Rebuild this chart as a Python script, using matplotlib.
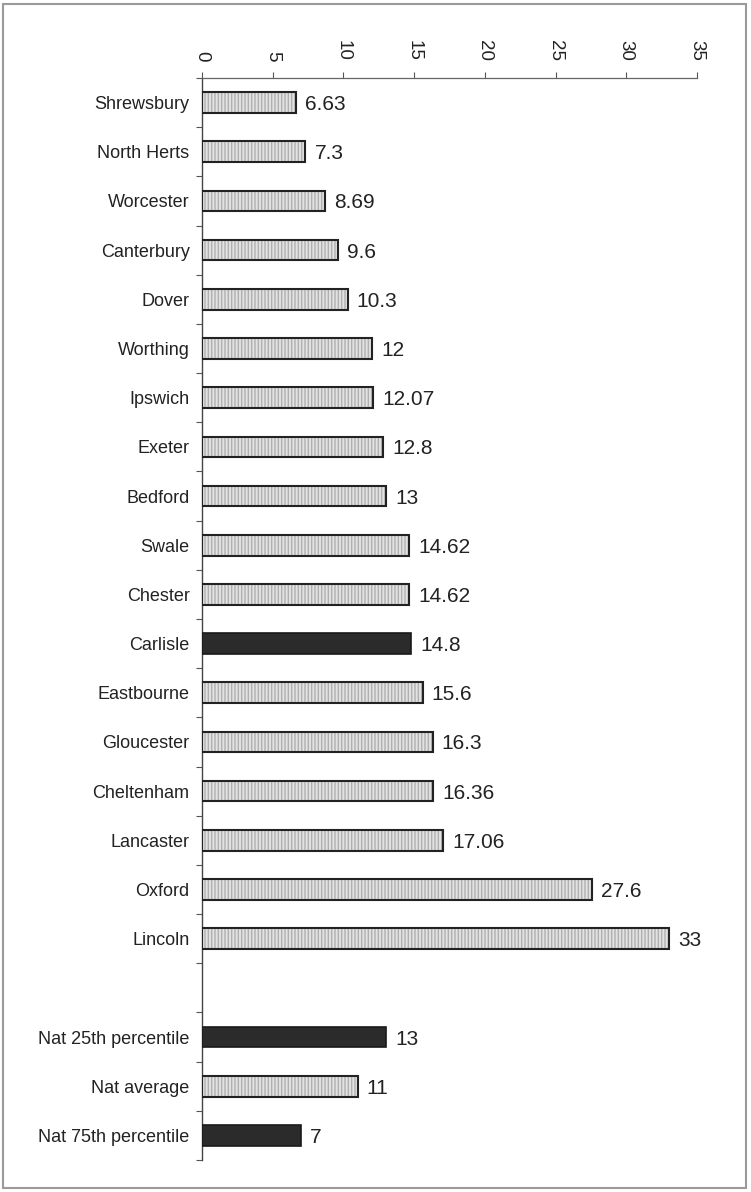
import matplotlib
matplotlib.use("Agg")
import matplotlib.pyplot as plt
from matplotlib.patches import Rectangle

categories = ["Shrewsbury", "North Herts", "Worcester", "Canterbury", "Dover",
              "Worthing", "Ipswich", "Exeter", "Bedford", "Swale", "Chester",
              "Carlisle", "Eastbourne", "Gloucester", "Cheltenham", "Lancaster",
              "Oxford", "Lincoln", "", "Nat 25th percentile", "Nat average",
              "Nat 75th percentile"]
values = [6.63, 7.3, 8.69, 9.6, 10.3, 12, 12.07, 12.8, 13, 14.62, 14.62,
          14.8, 15.6, 16.3, 16.36, 17.06, 27.6, 33, None, 13, 11, 7]
value_labels = ["6.63", "7.3", "8.69", "9.6", "10.3", "12", "12.07", "12.8",
                "13", "14.62", "14.62", "14.8", "15.6", "16.3", "16.36",
                "17.06", "27.6", "33", "", "13", "11", "7"]
dark = ["Carlisle", "Nat 25th percentile", "Nat 75th percentile"]
xticks = [0, 5, 10, 15, 20, 25, 30, 35]

plt.rcParams['font.family'] = ['Liberation Sans', 'DejaVu Sans']

fig = plt.figure(figsize=(7.51, 11.92), dpi=100)
ax = fig.add_axes([0.269, 0.0268, 0.659, 0.9078])

pos = list(range(len(categories)))
for i, (c, v) in enumerate(zip(categories, values)):
    if v is None:
        continue
    if c in dark:
        ax.barh(i, v, height=0.42, color="#2b2b2b", edgecolor="#1a1a1a",
                linewidth=1.2, zorder=3)
    else:
        ax.barh(i, v, height=0.42, color="#e2e2e2", edgecolor="#b0b0b0",
                hatch="|||||", linewidth=0, zorder=3)
        ax.barh(i, v, height=0.42, fill=False, edgecolor="#222222",
                linewidth=1.5, zorder=4)
    ax.text(v + 0.65, i + 0.04, value_labels[i], va="center", ha="left",
            fontsize=15, color="#222222")

ax.set_xlim(0, 35)
ax.set_ylim(len(categories) - 0.5, -0.5)
ax.xaxis.tick_top()
ax.set_xticks(xticks)
ax.set_xticklabels([str(t) for t in xticks], rotation=-90, fontsize=13.5,
                   color="#222222")
ax.tick_params(axis="x", length=4, color="#555555", pad=8)

ax.set_yticks([p - 0.5 for p in pos] + [len(pos) - 0.5])
ax.set_yticklabels([])
ax.set_yticks(pos, minor=True)
ax.set_yticklabels(categories, minor=True, fontsize=13, color="#222222")
ax.tick_params(axis="y", which="major", length=4, color="#555555")
ax.tick_params(axis="y", which="minor", length=0, pad=9)
for lbl in ax.get_yticklabels(minor=True):
    lbl.set_y(lbl.get_position()[1])

for s in ["right", "bottom"]:
    ax.spines[s].set_visible(False)
ax.spines["top"].set_color("#666666")
ax.spines["left"].set_color("#444444")
ax.spines["top"].set_linewidth(0.9)
ax.spines["left"].set_linewidth(1.0)

fig.patches.append(Rectangle((0.004, 0.003), 0.990, 0.994, transform=fig.transFigure,
                             fill=False, edgecolor="#9a9a9a", linewidth=1.5))

fig.savefig("out.png", dpi=100)
